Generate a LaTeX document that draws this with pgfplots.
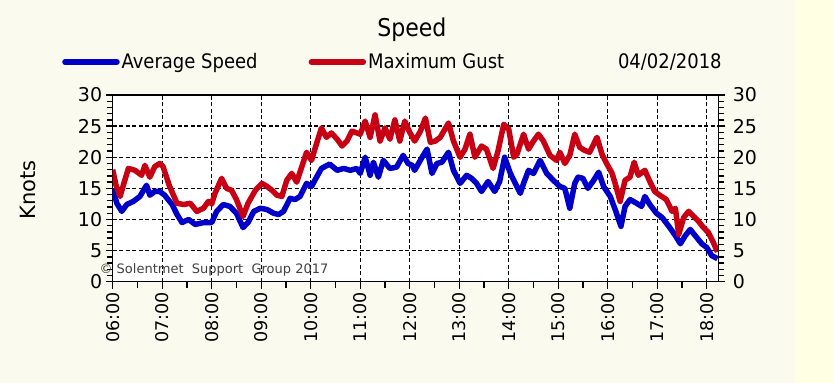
\documentclass[border=0pt]{standalone}
\usepackage{pgfplots}
\pgfplotsset{compat=1.18}
\usepackage{fontspec}
\setmainfont{DejaVu Sans}
\newfontfamily\condfont{DejaVu Sans Condensed}
\definecolor{bgcream}{RGB}{250,250,238}
\definecolor{bgyellow}{RGB}{255,255,228}
\definecolor{avgblue}{RGB}{0,0,200}
\definecolor{gustred}{RGB}{200,0,20}
\begin{document}
\begin{tikzpicture}
\fill[bgcream] (0,0) rectangle (795pt,383pt);
\fill[bgyellow] (795pt,0) rectangle (833pt,383pt);
\begin{axis}[
  at={(112.7pt,101.3pt)}, anchor=south west,
  scale only axis, width=605.6pt, height=186.7pt,
  xmin=0, xmax=734, ymin=0, ymax=30,
  axis background/.style={fill=white},
  axis line style={line width=1.6pt},
  xtick={0,60,...,720},
  xticklabels={06:00,07:00,08:00,09:00,10:00,11:00,12:00,13:00,14:00,15:00,16:00,17:00,18:00},
  minor xtick={30,90,...,690},
  ytick={0,5,...,30},
  minor ytick={1,2,3,4,6,7,8,9,11,12,13,14,16,17,18,19,21,22,23,24,26,27,28,29},
  tick align=outside,
  major tick length=7pt, minor tick length=6pt,
  tick style={line width=1.4pt, black},
  xtick pos=bottom, ytick pos=left,
  xmajorgrids, ymajorgrids,
  major grid style={black, line width=1.3pt, dash pattern=on 4pt off 2.5pt},
  x tick label style={rotate=90, anchor=east, font=\fontsize{17.5}{19}\selectfont},
  y tick label style={font=\fontsize{19}{21}\selectfont},
  /pgf/number format/assume math mode=true,
  ylabel={\fontsize{21}{23}\selectfont Knots},
  ylabel style={at={(axis description cs:-0.14,0.49)}, anchor=center},
  legend style={at={(axis description cs:-0.0837,1.177)}, anchor=west,
    draw=none, fill=none, inner sep=0pt, font=\condfont\fontsize{20}{22}\selectfont,
    /tikz/every even column/.append style={column sep=49pt},
    legend cell align=left},
  legend columns=2,
  legend image code/.code={\draw[#1, line width=5.5pt, line cap=round] (0pt,0pt) -- (52pt,0pt);},
  clip mode=individual,
]
\addplot[avgblue, line width=5.5pt, line join=round] coordinates {
(0,15) (5,12.6) (11,11.3) (17,12.4) (25,12.9) (33,13.7) (41,15.5) (45,13.9) (51,14.5) (57,14.5)
(63,13.9) (72,12.4) (78,10.8) (84,9.5) (92,10) (100,9.2) (110,9.5) (120,9.5) (126,11.3) (134,12.4)
(142,12.1) (150,11) (158,8.7) (164,9.5) (171,11.3) (179,11.8) (187,11.6) (195,11) (201,10.8) (207,11.3)
(215,13.4) (221,13.2) (227,13.7) (235,15.8) (241,15.3) (245,16.3) (253,18.2) (263,18.9) (272,17.9) (280,18.2)
(288,17.9) (296,18.2) (300,17.4) (306,20) (312,17.1) (316,19.2) (322,16.8) (328,19.5) (336,18.2) (344,18.4)
(352,20.3) (358,19) (363,18.7) (366,17.9) (375,20) (381,21.3) (387,17.4) (393,19) (399,19.2) (407,20.8)
(413,17.9) (421,15.8) (429,17.1) (435,16.6) (441,15.8) (447,14.5) (455,16.1) (463,14.5) (469,16.1) (475,20)
(482,17.4) (488,15.8) (494,14.2) (498,15.8) (504,17.9) (510,17.4) (518,19.5) (526,17.4) (534,16.3) (542,15.3)
(548,15) (554,11.8) (560,15.8) (564,16.8) (570,16.6) (576,15) (583,16.3) (589,17.6) (595,15.3) (603,13.7)
(609,11.6) (616,8.9) (621,12.1) (627,13.2) (635,12.6) (641,12.1) (645,13.7) (651,12.4) (659,11) (666,10.3)
(674,8.9) (682,7.4) (688,6.1) (694,7.4) (700,8.4) (706,7.4) (714,6.1) (720,5.5) (726,4.2) (733,3.7)
};
\addlegendentry{Average Speed}
\addplot[gustred, line width=5.5pt, line join=round] coordinates {
(0,18) (4,15.5) (9,13.7) (14,16) (19,18.2) (27,17.9) (35,17.1) (39,18.7) (45,16.8) (51,18.5)
(57,19) (61,18.5) (69,15.3) (78,12.6) (86,12.4) (94,12.6) (102,11.3) (110,11.8) (116,12.9) (120,12.5)
(124,14.2) (132,16.6) (138,15) (144,14.7) (150,13.2) (158,10.5) (164,12.6) (173,14.7) (181,15.8) (187,15.3)
(193,14.7) (199,13.9) (205,13.7) (211,16.3) (217,17.4) (223,16) (231,19.2) (235,20.8) (241,19.5) (245,21.3)
(253,24.7) (259,23.2) (265,23.9) (272,22.9) (278,21.8) (284,22.6) (290,24.2) (296,23.9) (300,23.7) (306,25.8)
(312,23.2) (318,26.8) (324,22.6) (330,24.7) (336,22.9) (342,26) (348,22.6) (354,25.8) (360,24) (366,22.6)
(373,24.2) (379,26.3) (385,22.4) (391,22.6) (397,23.2) (407,25.5) (413,22.6) (421,20) (427,21.3) (433,23.7)
(439,20) (447,21.8) (453,21.3) (461,18.2) (467,21) (474,25.3) (480,24.5) (486,20) (490,20.5) (498,23.7)
(504,21.3) (510,22.6) (516,23.7) (522,22.6) (530,20.3) (538,19.5) (542,20.8) (548,19) (554,20.3) (560,23.7)
(566,21.6) (572,21.1) (578,20.8) (587,23.2) (593,20.5) (599,18.9) (605,17.5) (609,15.8) (615,12.9) (621,16.3)
(627,16.8) (632,19.2) (637,17.1) (645,17.9) (651,16.1) (657,14.5) (663,13.9) (671,13.2) (678,11.3) (682,11.8)
(686,7.6) (692,10.3) (698,11.3) (704,10.5) (710,9.7) (716,8.7) (722,7.9) (728,6.3) (733,4.8)
};
\addlegendentry{Maximum Gust}
\node[anchor=center, font=\condfont\fontsize{24.5}{26}\selectfont] at (axis description cs:0.494,1.348) {Speed};
\node[anchor=east, font=\condfont\fontsize{20}{22}\selectfont, inner sep=0pt] at (axis description cs:1.006,1.177) {04/02/2018};
\node[anchor=west, font=\fontsize{13}{15}\selectfont, text=black!75, inner sep=0pt] at (axis description cs:-0.022,0.065) {\textcopyright{} Solentmet\ \ Support\ \ Group\ 2017};
\end{axis}
\begin{axis}[
  at={(112.7pt,101.3pt)}, anchor=south west,
  scale only axis, width=605.6pt, height=186.7pt,
  xmin=0, xmax=1, ymin=0, ymax=30,
  hide x axis,
  axis y line*=right,
  axis line style={line width=1.6pt},
  ytick={0,5,...,30},
  minor ytick={1,2,3,4,6,7,8,9,11,12,13,14,16,17,18,19,21,22,23,24,26,27,28,29},
  tick align=outside,
  major tick length=7pt, minor tick length=6pt,
  tick style={line width=1.4pt, black},
  y tick label style={font=\fontsize{19}{21}\selectfont, xshift=4pt},
  /pgf/number format/assume math mode=true,
]
\end{axis}
\pgfresetboundingbox
\path[use as bounding box] (0,0) rectangle (833pt,383pt);
\end{tikzpicture}
\end{document}
